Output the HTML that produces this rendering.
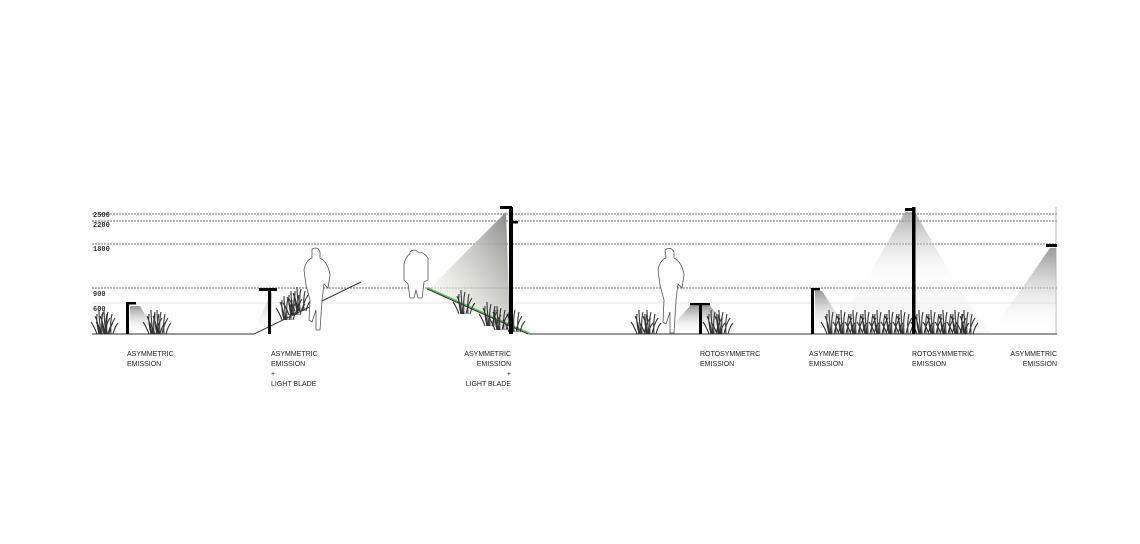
<!DOCTYPE html>
<html><head><meta charset="utf-8"><style>
html,body{margin:0;padding:0;background:#fff;}
svg{display:block}
text{font-family:"Liberation Sans",sans-serif;font-size:7px;fill:#222;}
.n{font-family:"Liberation Mono",monospace;font-size:7px;font-weight:bold;fill:#333}
</style></head><body>
<svg width="1140" height="544" viewBox="0 0 1140 544">
<defs>
<linearGradient id="g1" x1="0" y1="0" x2="0" y2="1"><stop offset="0" stop-color="#999"/><stop offset="1" stop-color="#fff" stop-opacity="0"/></linearGradient>
<linearGradient id="g2" x1="1" y1="0" x2="0" y2="1"><stop offset="0" stop-color="#888"/><stop offset="0.8" stop-color="#f4f4ea" stop-opacity="0.6"/><stop offset="1" stop-color="#fff" stop-opacity="0"/></linearGradient>
<g id="pl" stroke="#333" stroke-width="1.1" fill="none">
<path d="M0 0 Q-2 -12 -5 -18 M2 0 Q1 -14 3 -22 M4 0 Q6 -10 10 -16 M-3 0 Q-6 -8 -9 -12 M1 0 Q-1 -16 -1 -24 M6 0 Q5 -12 7 -20 M-1 0 Q-4 -12 -3 -20 M8 0 Q10 -8 13 -11"/>
</g>
</defs>
<g stroke="#444" stroke-width="0.8" stroke-dasharray="2,1">
<line x1="92" y1="214" x2="1057" y2="214"/>
<line x1="92" y1="221" x2="1057" y2="221"/>
<line x1="92" y1="244" x2="1057" y2="244"/>
<line x1="92" y1="288" x2="1057" y2="288"/>
</g>
<line x1="92" y1="303" x2="1057" y2="303" stroke="#ddd" stroke-width="0.8"/>
<line x1="1056" y1="207" x2="1056" y2="334" stroke="#bbb" stroke-width="1"/>
<g><text class="n" x="93" y="217">2500</text><text class="n" x="93" y="227">2200</text><text class="n" x="93" y="251">1800</text><text class="n" x="93" y="296">900</text><text class="n" x="93" y="311">600</text></g>
<polygon points="130,306 140,306 152,326 136,334 130,334" fill="url(#g1)"/>
<polygon points="272,292 252,334 272,334" fill="url(#g1)" opacity="0.7"/>
<polygon points="506,212 430,288 470,310 510,330" fill="url(#g2)"/>
<polygon points="690,306 710,306 735,334 665,334" fill="url(#g1)"/>
<polygon points="815,291 822,291 850,334 815,334" fill="url(#g1)"/>
<polygon points="905,212 915,212 960,290 860,290" fill="url(#g1)" opacity="0.8"/>
<polygon points="860,290 960,290 990,334 830,334" fill="#f2f2f2" opacity="0.6"/>
<polygon points="1050,248 1056,248 1056,334 990,334" fill="url(#g1)"/>
<g stroke="#333" stroke-width="1" fill="none">
<path d="M92 334 L254 334 L361 282"/>
<path d="M427 288 L530 334 L1057 334"/>
</g>
<path d="M427 288 L530 334" stroke="#5c5" stroke-width="2.5" fill="none" opacity="0.8"/>
<path d="M427 289 L528 334" stroke="#222" stroke-width="0.8"/>
<use href="#pl" x="100" y="334"/><use href="#pl" x="105" y="334"/>
<use href="#pl" x="152" y="334"/><use href="#pl" x="158" y="334"/>
<use href="#pl" x="285" y="320"/><use href="#pl" x="292" y="315"/><use href="#pl" x="298" y="311"/>
<use href="#pl" x="488" y="326"/><use href="#pl" x="498" y="330"/><use href="#pl" x="512" y="332"/><use href="#pl" x="462" y="314"/>
<use href="#pl" x="640" y="334"/><use href="#pl" x="648" y="334"/>
<use href="#pl" x="712" y="334"/><use href="#pl" x="720" y="334"/>
<g>
<use href="#pl" x="830" y="334"/><use href="#pl" x="842" y="334"/><use href="#pl" x="854" y="334"/><use href="#pl" x="866" y="334"/><use href="#pl" x="878" y="334"/><use href="#pl" x="890" y="334"/><use href="#pl" x="902" y="334"/><use href="#pl" x="920" y="334"/><use href="#pl" x="932" y="334"/><use href="#pl" x="944" y="334"/><use href="#pl" x="956" y="334"/><use href="#pl" x="965" y="334"/>
</g>
<g fill="#fff" stroke="#555" stroke-width="0.8">
<path d="M312 249 Q318 246 320 252 L320 258 Q328 262 330 275 L328 288 L324 284 L322 300 L320 330 L316 330 L316 310 L312 322 L309 320 L310 300 L306 285 L304 270 Q306 260 312 258 Z"/>
<path d="M410 252 Q414 248 418 252 Q424 252 428 258 L428 280 L424 282 L422 298 L418 298 L416 290 L414 298 L410 298 L408 284 L404 280 L404 264 Q406 256 410 254 Z"/>
<path d="M665 250 Q671 246 674 252 L674 258 Q682 262 684 275 L682 288 L678 284 L676 300 L674 333 L670 333 L670 312 L666 324 L663 322 L664 300 L660 285 L658 270 Q660 260 666 258 Z"/>
</g>
<g fill="#000">
<rect x="126" y="302" width="3" height="32"/><rect x="126" y="302" width="10" height="2.5"/>
<rect x="268" y="289" width="3" height="45"/><rect x="259" y="288" width="18" height="3"/>
<rect x="509" y="207" width="4" height="127"/><rect x="500" y="206" width="12" height="3"/><rect x="512" y="221" width="6" height="2.5"/>
<rect x="699" y="303" width="3" height="31"/><rect x="690" y="303" width="20" height="2.5"/>
<rect x="811" y="288" width="3" height="46"/><rect x="811" y="288" width="9" height="2.5"/>
<rect x="912" y="207" width="3.5" height="127"/><rect x="905" y="208" width="9" height="3"/>
<rect x="1046" y="244" width="11" height="3"/>
</g>
<text x="127" y="356">ASYMMETRIC</text><text x="127" y="366">EMISSION</text>
<text x="271" y="356">ASYMMETRIC</text><text x="271" y="366">EMISSION</text><text x="271" y="376">+</text><text x="271" y="386">LIGHT BLADE</text>
<g text-anchor="end"><text x="511" y="356">ASYMMETRIC</text><text x="511" y="366">EMISSION</text><text x="511" y="376">+</text><text x="511" y="386">LIGHT BLADE</text></g>
<text x="700" y="356">ROTOSYMMETRC</text><text x="700" y="366">EMISSION</text>
<text x="809" y="356">ASYMMETRC</text><text x="809" y="366">EMISSION</text>
<text x="912" y="356">ROTOSYMMETRIC</text><text x="912" y="366">EMISSION</text>
<g text-anchor="end"><text x="1057" y="356">ASYMMETRIC</text><text x="1057" y="366">EMISSION</text></g>
</svg>
</body></html>
